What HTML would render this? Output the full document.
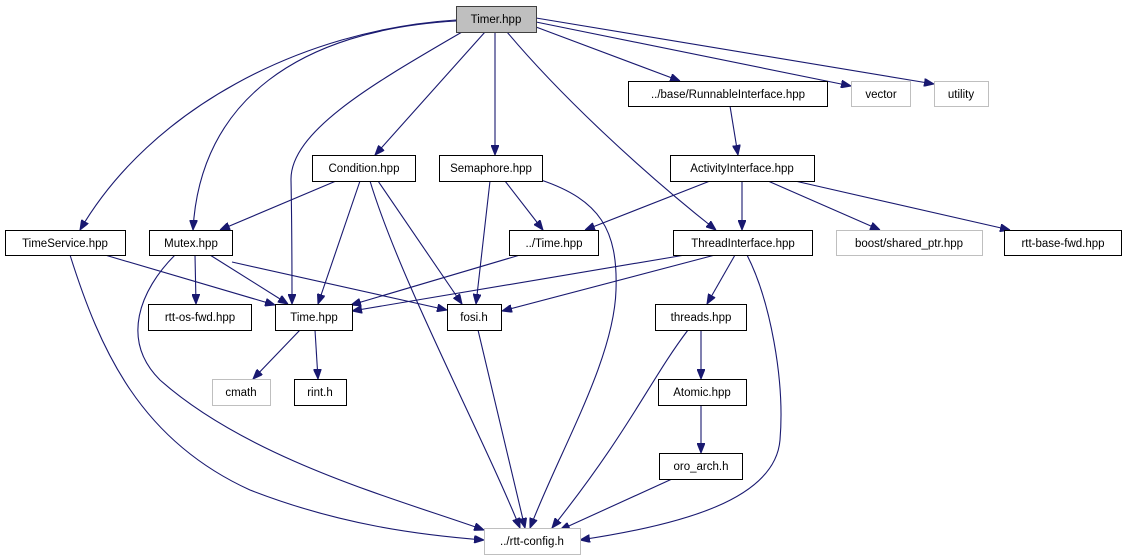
<!DOCTYPE html>
<html><head><meta charset="utf-8"><style>
html,body{margin:0;padding:0;background:#fff;}
svg{display:block;}
text{font-family:"Liberation Sans",Arial,sans-serif;font-size:11.5px;fill:#000;}
</style></head><body>
<svg width="1124" height="560" viewBox="0 0 1124 560" xmlns="http://www.w3.org/2000/svg">
<defs>
<marker id="a" viewBox="0 0 10 8" refX="10" refY="4" markerWidth="10" markerHeight="8" markerUnits="userSpaceOnUse" orient="auto">
<path d="M0,0 L10,4 L0,8 z" fill="#191970" stroke="#191970"/>
</marker>
</defs>
<g fill="none" stroke="#191970" stroke-width="1.1" marker-end="url(#a)">
<path d="M456,20 C300,30 150,110 80,230"/>
<path d="M456,21 C300,30 200,100 193,230"/>
<path d="M462,32 C380,80 290,130 291,180 C292,230 292,270 292,304"/>
<path d="M485,32 L375,155"/>
<path d="M495,32 L495,155"/>
<path d="M507,32 C560,95 640,170 716,230"/>
<path d="M536,27 L680,81"/>
<path d="M536,22 L851,86"/>
<path d="M536,18 L934,84"/>
<path d="M730,106 L738,155"/>
<path d="M710,181 L585,230"/>
<path d="M742,181 L742,230"/>
<path d="M768,181 L880,230"/>
<path d="M795,181 L1010,230"/>
<path d="M336,181 L220,230"/>
<path d="M360,181 L318,304"/>
<path d="M378,181 L462,304"/>
<path d="M370,181 C400,280 480,430 520,528"/>
<path d="M490,181 L476,304"/>
<path d="M505,181 L543,230"/>
<path d="M541,180 C600,200 618,230 616,290 C614,360 560,450 530,528"/>
<path d="M520,255 L351,305"/>
<path d="M685,255 L352,311"/>
<path d="M715,255 L502,311"/>
<path d="M735,255 L707,304"/>
<path d="M747,255 C770,300 785,380 780,440 C775,500 680,525 580,540"/>
<path d="M105,255 L275,305"/>
<path d="M70,255 C100,350 140,440 250,490 C340,525 420,535 484,540"/>
<path d="M195,255 L196,304"/>
<path d="M210,255 L288,304"/>
<path d="M232,262 L447,310"/>
<path d="M175,255 C140,290 120,340 160,380 C250,460 400,500 484,530"/>
<path d="M300,330 L253,379"/>
<path d="M315,330 L318,379"/>
<path d="M478,330 L525,528"/>
<path d="M701,330 L701,379"/>
<path d="M688,330 C650,380 630,430 552,528"/>
<path d="M701,405 L701,453"/>
<path d="M672,479 L560,530"/>
</g>
<g stroke-width="1">
<rect x="456.5" y="6.5" width="80" height="26" fill="#bfbfbf" stroke="#404040"/>
<rect x="312.5" y="155.5" width="103" height="26" fill="#fff" stroke="#000"/>
<rect x="439.5" y="155.5" width="103" height="26" fill="#fff" stroke="#000"/>
<rect x="5.5" y="230.5" width="120" height="25" fill="#fff" stroke="#000"/>
<rect x="149.5" y="230.5" width="83" height="25" fill="#fff" stroke="#000"/>
<rect x="509.5" y="230.5" width="89" height="25" fill="#fff" stroke="#000"/>
<rect x="628.5" y="81.5" width="199" height="25" fill="#fff" stroke="#000"/>
<rect x="851.5" y="81.5" width="59" height="25" fill="#fff" stroke="#bfbfbf"/>
<rect x="934.5" y="81.5" width="54" height="25" fill="#fff" stroke="#bfbfbf"/>
<rect x="670.5" y="155.5" width="144" height="26" fill="#fff" stroke="#000"/>
<rect x="673.5" y="230.5" width="139" height="25" fill="#fff" stroke="#000"/>
<rect x="836.5" y="230.5" width="146" height="25" fill="#fff" stroke="#bfbfbf"/>
<rect x="1004.5" y="230.5" width="117" height="25" fill="#fff" stroke="#000"/>
<rect x="148.5" y="304.5" width="103" height="26" fill="#fff" stroke="#000"/>
<rect x="275.5" y="304.5" width="77" height="26" fill="#fff" stroke="#000"/>
<rect x="447.5" y="304.5" width="54" height="26" fill="#fff" stroke="#000"/>
<rect x="655.5" y="304.5" width="91" height="26" fill="#fff" stroke="#000"/>
<rect x="212.5" y="379.5" width="58" height="26" fill="#fff" stroke="#bfbfbf"/>
<rect x="294.5" y="379.5" width="52" height="26" fill="#fff" stroke="#000"/>
<rect x="658.5" y="379.5" width="88" height="26" fill="#fff" stroke="#000"/>
<rect x="659.5" y="453.5" width="83" height="26" fill="#fff" stroke="#000"/>
<rect x="484.5" y="528.5" width="96" height="26" fill="#fff" stroke="#bfbfbf"/>
</g>
<g text-anchor="middle">
<text x="496" y="23">Timer.hpp</text>
<text x="364" y="172">Condition.hpp</text>
<text x="491" y="172">Semaphore.hpp</text>
<text x="65" y="247">TimeService.hpp</text>
<text x="191" y="247">Mutex.hpp</text>
<text x="554" y="247">../Time.hpp</text>
<text x="728" y="98">../base/RunnableInterface.hpp</text>
<text x="881" y="98">vector</text>
<text x="961" y="98">utility</text>
<text x="742" y="172">ActivityInterface.hpp</text>
<text x="743" y="247">ThreadInterface.hpp</text>
<text x="909" y="247">boost/shared_ptr.hpp</text>
<text x="1063" y="247">rtt-base-fwd.hpp</text>
<text x="200" y="321">rtt-os-fwd.hpp</text>
<text x="314" y="321">Time.hpp</text>
<text x="474" y="321">fosi.h</text>
<text x="701" y="321">threads.hpp</text>
<text x="241" y="396">cmath</text>
<text x="320" y="396">rint.h</text>
<text x="702" y="396">Atomic.hpp</text>
<text x="701" y="470">oro_arch.h</text>
<text x="532" y="545">../rtt-config.h</text>
</g>
</svg>
</body></html>
